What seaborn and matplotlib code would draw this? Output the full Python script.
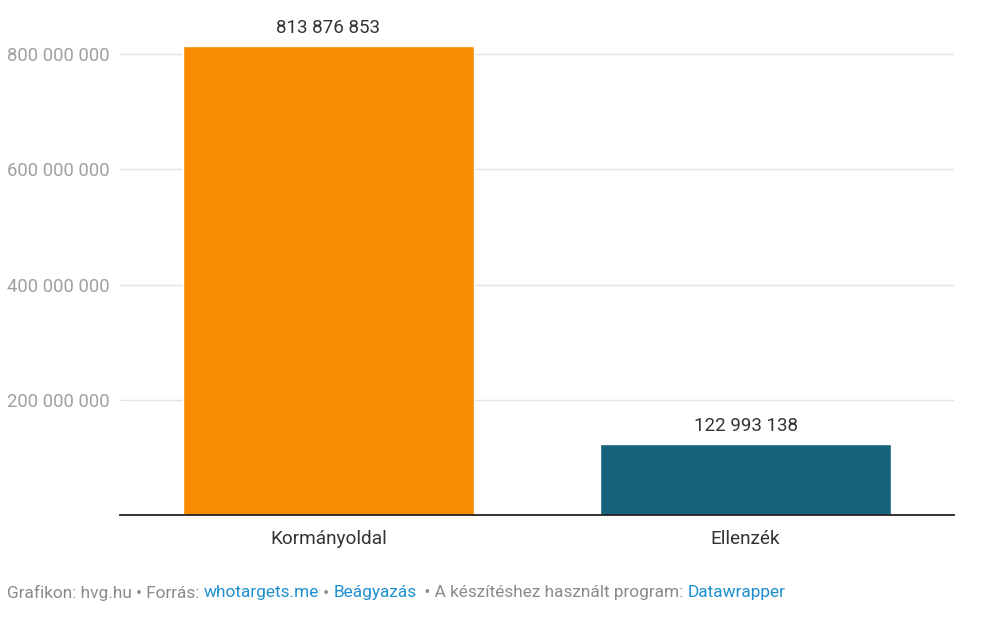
# Recreate the hvg.hu / Datawrapper bar chart: ad spending, government side vs opposition
import pandas as pd
import matplotlib
matplotlib.use('Agg')
import matplotlib.pyplot as plt
from matplotlib.ticker import FuncFormatter
import seaborn as sns

# Data
categories = ['Kormányoldal', 'Ellenzék']
values = [813876853, 122993138]
bar_colors = ['#F98C00', '#17627C']
yticks = [200000000, 400000000, 600000000, 800000000]

df = pd.DataFrame({'oldal': categories, 'osszeg': values})

def space_fmt(v, pos=None):
    # Hungarian style thousands separator (space)
    return f"{int(v):,}".replace(',', ' ')

sns.set_style('white')
plt.rcParams['font.family'] = ['Roboto', 'DejaVu Sans']

fig = plt.figure(figsize=(10.01, 6.21), dpi=100)
ax = fig.add_axes([120/1001, (621-515)/621, 834/1001, 475/621])

sns.barplot(data=df, x='oldal', y='osszeg', hue='oldal', palette=bar_colors,
            width=0.70, legend=False, ax=ax, saturation=1)

ax.set_xlim(-0.5, 1.5)
ax.set_ylim(0, 800000000 * 475 / 461)
ax.set_yticks(yticks)
ax.yaxis.set_major_formatter(FuncFormatter(space_fmt))
ax.grid(axis='y', color='#e3e3e3', linewidth=1)
ax.set_axisbelow(True)
for s in ['top', 'right', 'left']:
    ax.spines[s].set_visible(False)
ax.spines['bottom'].set_color('#222222')
ax.spines['bottom'].set_linewidth(1.3)
ax.tick_params(axis='y', length=0, pad=7.5, labelsize=13.3, labelcolor='#a0a0a0')
ax.tick_params(axis='x', length=0, pad=10.5, labelsize=13.7, labelcolor='#333333')
ax.set_xlabel('')
ax.set_ylabel('')

# value labels above bars
for i, v in enumerate(values):
    ax.annotate(space_fmt(v), (i, v), xytext=(0, 6.5), textcoords='offset points',
                ha='center', va='bottom', fontsize=13.5, color='#333333')

# footer with mixed colours
parts = [('Grafikon: hvg.hu • Forrás: ', '#8a8a8a'),
         ('whotargets.me', '#1d8fd0'),
         (' • ', '#8a8a8a'),
         ('Beágyazás', '#1d8fd0'),
         ('  • A készítéshez használt program: ', '#8a8a8a'),
         ('Datawrapper', '#1d8fd0')]
fig.canvas.draw()
renderer = fig.canvas.get_renderer()
x = 7 / 1001
for txt, col in parts:
    t = fig.text(x, 1 - 593/621, txt, color=col, fontsize=12.45, va='center', ha='left')
    bb = t.get_window_extent(renderer=renderer)
    x += bb.width / fig.bbox.width

fig.savefig('out.png', dpi=100)
